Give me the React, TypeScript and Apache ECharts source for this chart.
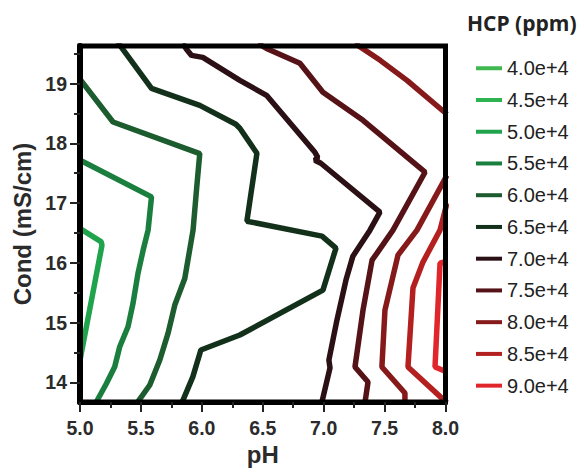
import React, { useEffect, useRef } from "react";
import * as echarts from "echarts";

// Contour levels (legend) and their colours
const levelNames = [
  "4.0e+4", "4.5e+4", "5.0e+4", "5.5e+4", "6.0e+4", "6.5e+4",
  "7.0e+4", "7.5e+4", "8.0e+4", "8.5e+4", "9.0e+4",
];
const levelColors = [
  "#3fb94f", "#2db450", "#1fa34c", "#1a7f3e", "#1c5c2e", "#13301b",
  "#2b1016", "#561317", "#861a1a", "#b3201f", "#e0262a",
];

// Axis ticks
const yMajorTicks = [14, 15, 16, 17, 18, 19];
const yMinorTicks = [14.5, 15.5, 16.5, 17.5, 18.5, 19.5];

// Contour polylines: [pH, Cond]
const contour40: number[][] = [];
const contour45: number[][] = [];
const contour50 = [
  [4.995, 16.58], [5.175, 16.35], [5.18, 16.29], [5.0, 14.37],
];
const contour55 = [
  [4.99, 17.73], [5.587, 17.104], [5.559, 16.547], [5.518, 16.21], [5.476, 15.823],
  [5.435, 15.32], [5.394, 14.93], [5.326, 14.595], [5.285, 14.26], [5.217, 13.98],
  [5.135, 13.675], [5.121, 13.62],
];
const contour60 = [
  [4.99, 19.1], [5.271, 18.358], [5.983, 17.829], [5.956, 17.216], [5.928, 16.547],
  [5.86, 15.739], [5.778, 15.293], [5.723, 14.824], [5.655, 14.373], [5.573, 13.955],
  [5.476, 13.676], [5.458, 13.62],
];
const contour65 = [
  [5.31, 19.69], [5.587, 18.92], [5.983, 18.637], [6.279, 18.32], [6.312, 18.253],
  [6.452, 17.834], [6.37, 16.697], [6.986, 16.447], [7.101, 16.246], [6.994, 15.544],
  [6.312, 14.791], [5.992, 14.54], [5.926, 14.09], [5.836, 13.655], [5.827, 13.6],
];
const contour70 = [
  [5.844, 19.674], [5.874, 19.574], [5.915, 19.473], [6.008, 19.44], [6.312, 19.055],
  [6.531, 18.804], [6.928, 17.851], [6.952, 17.767], [6.928, 17.717], [6.977, 17.667],
  [7.462, 16.848], [7.38, 16.547], [7.24, 16.112], [7.183, 15.711], [7.109, 15.042],
  [7.043, 14.373], [7.052, 14.24], [6.986, 13.672], [6.981, 13.605],
];
const contour75 = [
  [6.46, 19.674], [6.531, 19.59], [6.805, 19.34], [6.994, 18.855], [7.323, 18.386],
  [7.832, 17.517], [7.569, 16.547], [7.438, 16.162], [7.397, 16.045], [7.323, 15.209],
  [7.257, 14.256], [7.364, 14.005], [7.34, 13.672], [7.335, 13.605],
];
const contour80a = [
  [7.257, 19.674], [7.464, 19.39], [7.684, 19.055], [8.012, 18.487],
];
const contour80b = [
  [8.012, 17.465], [7.766, 16.547], [7.61, 16.129], [7.503, 15.209], [7.478, 14.256],
  [7.667, 13.821], [7.667, 13.6],
];
const contour85 = [
  [8.012, 16.997], [7.955, 16.547], [7.815, 16.012], [7.733, 15.577], [7.692, 14.256],
  [8.012, 13.655],
];
const contour90 = [
  [8.012, 16.027], [7.955, 15.993], [7.914, 14.256], [8.012, 14.172],
];

const contourSegments: number[][][][] = [
  [contour40], [contour45], [contour50], [contour55], [contour60], [contour65],
  [contour70], [contour75], [contour80a, contour80b], [contour85], [contour90],
];

const labelFont = "'Liberation Sans', Arial, sans-serif";

export default function App() {
  const ref = useRef<HTMLDivElement>(null);

  useEffect(() => {
    document.body.style.margin = "0";
    if (!ref.current) return;
    const chart = echarts.init(ref.current, null, { renderer: "svg" });

    const series: any[] = [];
    contourSegments.forEach((segs, i) => {
      segs.forEach((seg) => {
        series.push({
          type: "line",
          name: levelNames[i],
          data: seg,
          showSymbol: false,
          symbol: "none",
          smooth: false,
          clip: true,
          color: levelColors[i],
          lineStyle: { width: 5.5, color: levelColors[i] },
          z: 2,
        });
      });
    });

    const option: any = {
      animation: false,
      backgroundColor: "#ffffff",
      title: {
        text: "HCP (ppm)",
        left: 467,
        top: 12,
        padding: 0,
        textStyle: {
          fontFamily: "'Open Sans', sans-serif",
          fontWeight: "bold",
          fontSize: 21,
          color: "#222",
        },
      },
      legend: {
        data: levelNames,
        orient: "vertical",
        left: 476,
        top: 52.5,
        padding: 0,
        itemGap: 0.24,
        itemWidth: 26,
        itemHeight: 4,
        icon: "rect",
        selectedMode: false,
        itemStyle: { borderWidth: 0 },
        textStyle: {
          fontFamily: labelFont,
          fontSize: 20,
          lineHeight: 18.5,
          color: "#222",
          padding: [13, 0, 0, 0],
        },
      },
      grid: {
        left: 80,
        top: 46,
        width: 365.5,
        height: 356,
        show: true,
        borderColor: "#000",
        borderWidth: 5,
        backgroundColor: "transparent",
        z: 5,
      },
      xAxis: {
        type: "value",
        min: 5,
        max: 8,
        interval: 0.5,
        z: 6,
        name: "pH",
        nameLocation: "middle",
        nameGap: 32,
        nameTextStyle: {
          fontFamily: labelFont,
          fontWeight: "bold",
          fontSize: 24,
          color: "#2b2b2b",
        },
        axisLine: { show: true, lineStyle: { color: "#000", width: 5 } },
        axisTick: { show: true, length: 10, lineStyle: { color: "#222", width: 2 } },
        minorTick: { show: true, splitNumber: 2, length: 6, lineStyle: { color: "#222", width: 2 } },
        splitLine: { show: false },
        minorSplitLine: { show: false },
        axisLabel: {
          margin: 16,
          fontFamily: labelFont,
          fontWeight: "bold",
          fontSize: 19.5,
          color: "#2b2b2b",
          formatter: (v: number) => v.toFixed(1),
        },
      },
      yAxis: [
        {
          type: "value",
          position: "left",
          min: 13.67,
          max: 19.63,
          z: 6,
          name: "Cond (mS/cm)",
          nameLocation: "middle",
          nameGap: 44,
          nameTextStyle: {
            fontFamily: labelFont,
            fontWeight: "bold",
            fontSize: 24,
            color: "#2b2b2b",
          },
          axisLine: { show: true, lineStyle: { color: "#000", width: 6 } },
          axisTick: {
            show: true,
            length: 10,
            customValues: yMajorTicks,
            lineStyle: { color: "#222", width: 2 },
          },
          splitLine: { show: false },
          axisLabel: {
            margin: 13,
            customValues: yMajorTicks,
            fontFamily: labelFont,
            fontWeight: "bold",
            fontSize: 19.5,
            color: "#2b2b2b",
            formatter: (v: number) => String(Math.round(v)),
          },
        },
        {
          type: "value",
          position: "left",
          min: 13.67,
          max: 19.63,
          z: 6,
          axisLine: { show: false },
          axisTick: {
            show: true,
            length: 6,
            customValues: yMinorTicks,
            lineStyle: { color: "#222", width: 2 },
          },
          splitLine: { show: false },
          axisLabel: { show: false },
        },
      ],
      series,
    };

    chart.setOption(option);
    return () => {
      chart.dispose();
    };
  }, []);

  return <div ref={ref} style={{ width: 584, height: 472 }} />;
}
